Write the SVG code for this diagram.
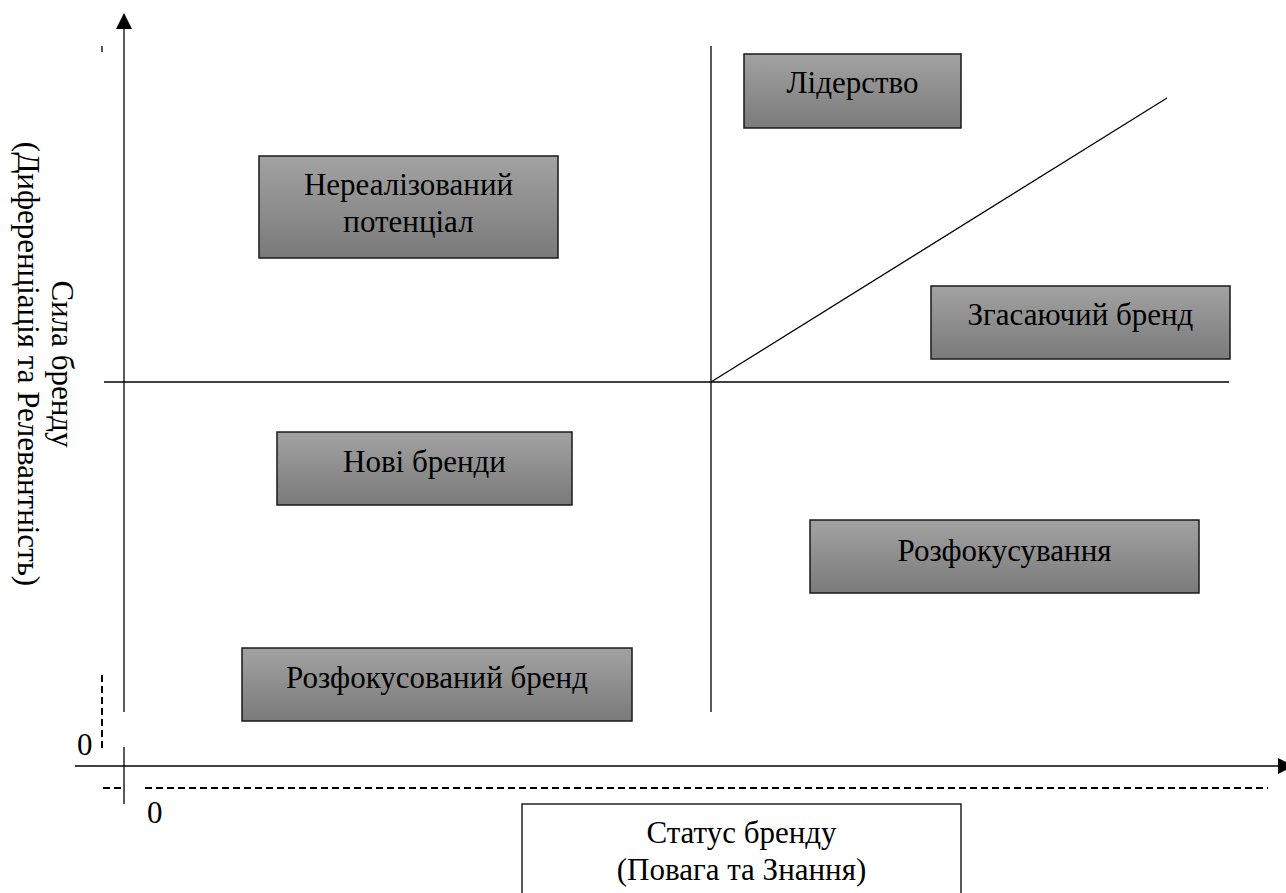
<svg xmlns="http://www.w3.org/2000/svg" width="1286" height="893" viewBox="0 0 1286 893">
<style>
.ln{stroke:#000;stroke-width:1.3;fill:none}
.dash{stroke:#000;stroke-width:2;fill:none;stroke-dasharray:7 4}
.box{fill:url(#g);stroke:#1a1a1a;stroke-width:1.5}
.wbox{fill:#fff;stroke:#000;stroke-width:1.3}
.c{text-anchor:middle}
</style>
<defs>
<linearGradient id="g" x1="0" y1="0" x2="0" y2="1">
<stop offset="0" stop-color="#a2a2a2"/>
<stop offset="1" stop-color="#7a7a7a"/>
</linearGradient>
</defs>
<rect width="1286" height="893" fill="#fff"/>
<g id="connectors">
<line class="ln" x1="124" y1="28" x2="124" y2="712"/>
<polygon points="124,13 116,29 132,29" fill="#000"/>
<line class="ln" x1="124" y1="747" x2="124" y2="804"/>
<line class="ln" x1="75" y1="766" x2="1280" y2="766"/>
<polygon points="1294,766 1278,758 1278,774" fill="#000"/>
<line class="ln" x1="102" y1="46" x2="102" y2="52" stroke-width="2"/>
<line class="dash" x1="102" y1="675" x2="102" y2="751"/>
<line class="dash" x1="103" y1="788" x2="124" y2="788"/>
<line class="dash" x1="145" y1="788" x2="1268" y2="788"/>
<line class="ln" x1="104" y1="382" x2="1229" y2="382"/>
<line class="ln" x1="711" y1="46" x2="711" y2="712"/>
<line class="ln" x1="711" y1="382" x2="1167" y2="98"/>
</g>
<g font-family="Liberation Serif, serif" font-size="31" fill="#000">
<text x="77" y="755">0</text>
<text x="147" y="823">0</text>
<g id="yaxis-label">
<text class="c" transform="rotate(90)" x="364" y="-52">Сила бренду</text>
<text class="c" transform="rotate(90)" x="364" y="-18">(Диференціація та Релевантність)</text>
</g>
<g id="n-leadership">
<rect class="box" x="744" y="54" width="217" height="74"/>
<text class="c" x="852.5" y="93">Лідерство</text>
</g>
<g id="n-unrealized">
<rect class="box" x="259" y="156" width="299" height="102"/>
<text class="c" x="408.5" y="195">Нереалізований</text>
<text class="c" x="408.5" y="232">потенціал</text>
</g>
<g id="n-fading">
<rect class="box" x="931" y="286" width="299" height="73"/>
<text class="c" x="1080.5" y="325">Згасаючий бренд</text>
</g>
<g id="n-new">
<rect class="box" x="277" y="432" width="295" height="73"/>
<text class="c" x="424.5" y="472">Нові бренди</text>
</g>
<g id="n-defocus">
<rect class="box" x="810" y="520" width="389" height="73"/>
<text class="c" x="1004.5" y="561">Розфокусування</text>
</g>
<g id="n-defocused-brand">
<rect class="box" x="242" y="648" width="390" height="73"/>
<text class="c" x="437" y="688">Розфокусований бренд</text>
</g>
<g id="n-status">
<rect class="wbox" x="522" y="804" width="439" height="100"/>
<text class="c" x="741.5" y="843">Статус бренду</text>
<text class="c" x="741.5" y="880">(Повага та Знання)</text>
</g>
</g>
</svg>
